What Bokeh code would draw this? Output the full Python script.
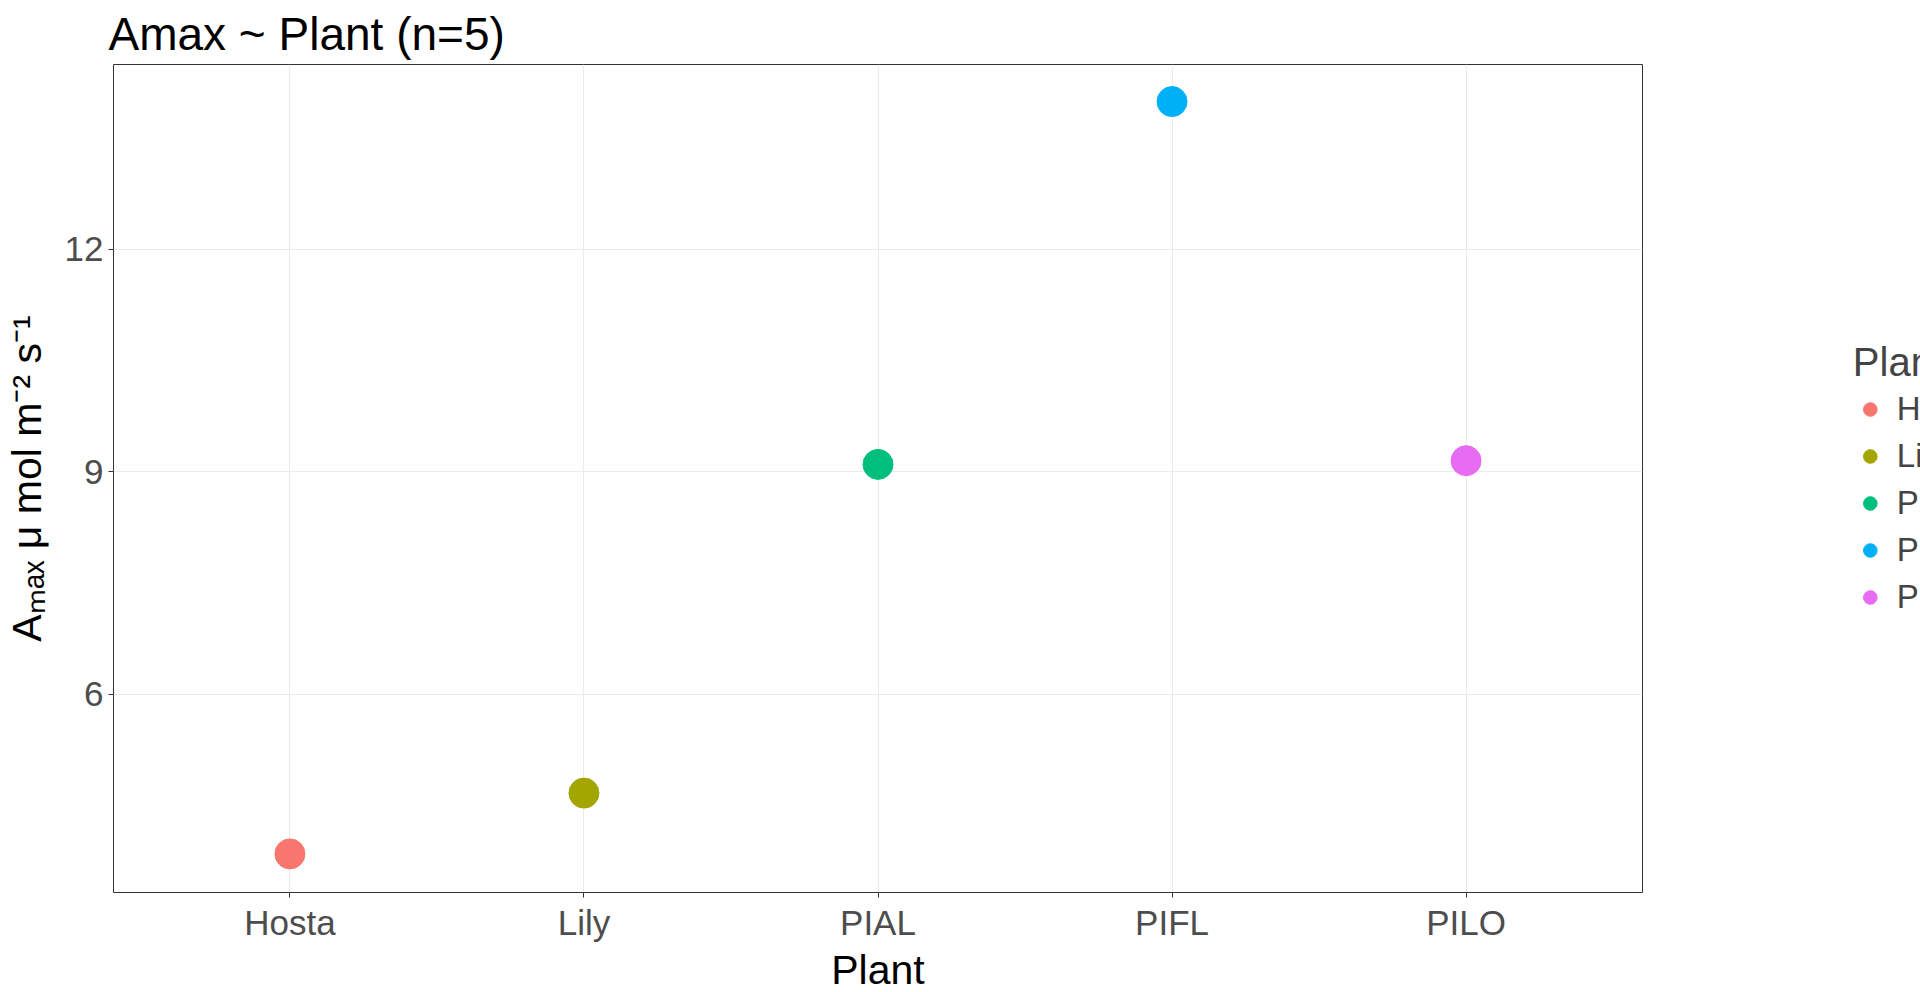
from bokeh.plotting import figure
from bokeh.models import Legend, LegendItem, ColumnDataSource, Range1d
from bokeh.embed import file_html
from bokeh.resources import INLINE

plants = ["Hosta", "Lily", "PIAL", "PIFL", "PILO"]
amax = [3.85, 4.67, 9.10, 13.99, 9.15]
colors = ["#F8766D", "#A3A500", "#00BF7D", "#00B0F6", "#E76BF3"]
y_ticks = [6, 9, 12]

p = figure(x_range=Range1d(-0.6, len(plants) - 0.4),
           y_range=Range1d(3.33, 14.49),
           frame_width=1529, frame_height=828,
           output_backend="svg", toolbar_location=None,
           title="Amax ~ Plant (n=5)", x_axis_label="Plant",
           y_axis_label="Aₘₐₓ μ mol m⁻² s⁻¹",
           min_border_left=20, min_border_top=5, min_border_bottom=5, min_border_right=5)

p.title.text_font = "Liberation Sans"
p.title.text_font_size = "46px"
p.title.text_font_style = "normal"
p.title.text_color = "black"
p.title.offset = -5

p.background_fill_color = "white"
p.outline_line_color = "#333333"
p.outline_line_width = 1
p.xgrid.grid_line_color = "#ebebeb"
p.ygrid.grid_line_color = "#ebebeb"
p.ygrid.minor_grid_line_color = "#ebebeb"
p.ygrid.minor_grid_line_width = 0.6
p.xaxis.ticker = list(range(len(plants)))
p.xaxis.major_label_overrides = {i: n for i, n in enumerate(plants)}
p.yaxis.ticker = y_ticks
p.yaxis.ticker.num_minor_ticks = 2
p.yaxis.minor_tick_line_color = None
p.xaxis.minor_tick_line_color = None

for ax in (p.xaxis, p.yaxis):
    ax.axis_line_color = None
    ax.major_tick_line_color = "#333333"
    ax.major_tick_out = 5
    ax.major_tick_in = 0
    ax.major_label_text_font = "Liberation Sans"
    ax.major_label_text_font_size = "35px"
    ax.major_label_text_color = "#4d4d4d"
    ax.axis_label_text_font = "Liberation Sans"
    ax.axis_label_text_font_size = "41px"
    ax.axis_label_text_font_style = "normal"
    ax.axis_label_text_color = "black"
p.xaxis.major_label_standoff = 5
p.xaxis.axis_label_standoff = 2
p.yaxis.axis_label_standoff = 12

items = []
for i, (name, v, c) in enumerate(zip(plants, amax, colors)):
    src = ColumnDataSource(dict(x=[i], y=[v]))
    r = p.scatter("x", "y", source=src, size=30, fill_color=c, line_color=c)
    items.append(LegendItem(label=name, renderers=[r]))

legend = Legend(items=items, title="Plant name", location="center",
                border_line_color=None, background_fill_color=None,
                label_text_font="Liberation Sans", label_text_font_size="33px",
                title_text_font="Liberation Sans", title_text_font_size="40px",
                title_text_font_style="normal", glyph_width=34, glyph_height=34,
                spacing=9, label_standoff=10, padding=4, margin=14)
p.add_layout(legend, "right")

open("out.html", "w").write(file_html(p, INLINE))
